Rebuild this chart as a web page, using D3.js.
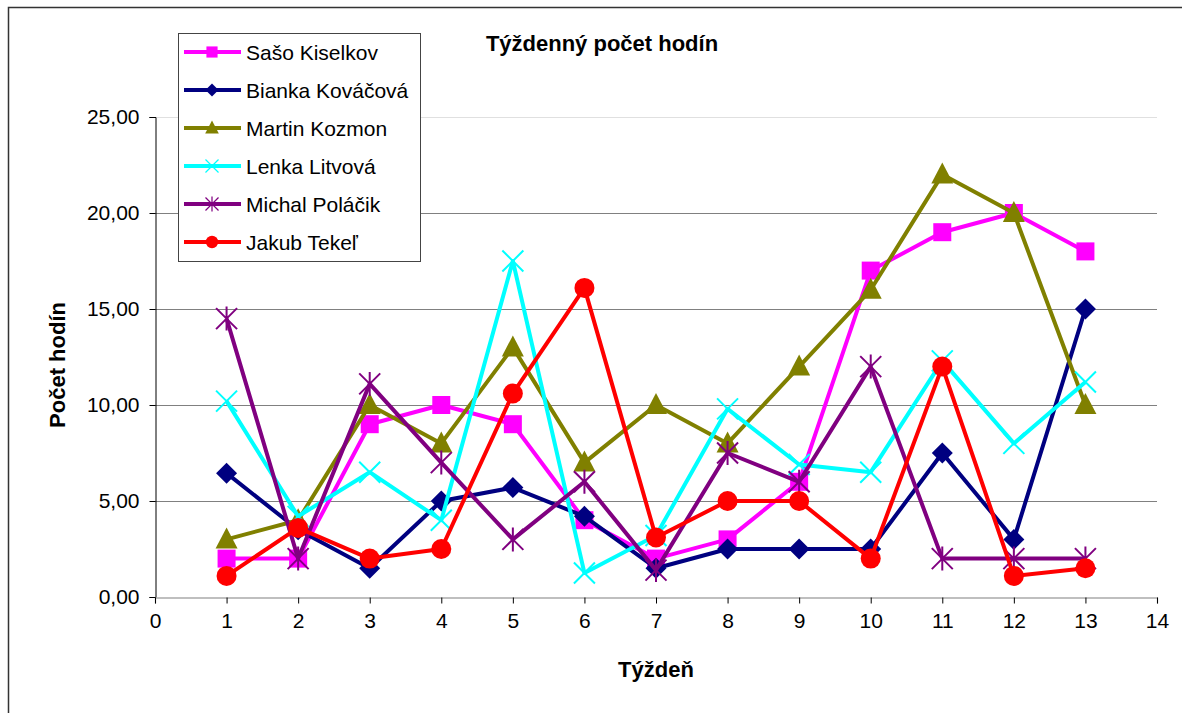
<!DOCTYPE html>
<html>
<head>
<meta charset="utf-8">
<script src="https://cdn.jsdelivr.net/npm/d3@7"></script>
<style>
  body { margin: 0; background: #fff; }
  svg { display: block; font-family: "Liberation Sans", Arial, sans-serif; }
</style>
</head>
<body>
<div id="chart"></div>
<script>
// Weekly hours per person, weeks 1..13
var weeks = [1, 2, 3, 4, 5, 6, 7, 8, 9, 10, 11, 12, 13];
var names = ["Sašo Kiselkov", "Bianka Kováčová", "Martin Kozmon", "Lenka Litvová", "Michal Poláčik", "Jakub Tekeľ"];
var colors = ["#ff00ff", "#000080", "#808000", "#00ffff", "#800080", "#ff0000"];
var markers = ["square", "diamond", "triangle", "x", "star", "circle"];

var saso    = [2, 2, 9, 10, 9, 4, 2, 3, 6, 17, 19, 20, 18];
var bianka  = [6.45, 3.5, 1.5, 5, 5.7, 4.2, 1.5, 2.5, 2.5, 2.5, 7.5, 3, 15];
var martin  = [3, 4, 10, 8, 13, 7, 10, 8, 12, 16, 22, 20, 10];
var lenka   = [10.2, 4.2, 6.5, 4, 17.5, 1.25, 3.2, 9.8, 6.9, 6.5, 12.3, 8, 11.2];
var michal  = [14.5, 2, 11.1, 7, 3, 6, 1.4, 7.5, 6, 12, 2, 2, 2];
var jakub   = [1.1, 3.6, 2, 2.5, 10.6, 16.1, 3.1, 5, 5, 2, 12, 1.1, 1.5];

var seriesValues = [saso, bianka, martin, lenka, michal, jakub];

var xTicks = d3.range(0, 15);
var yTicks = [0, 5, 10, 15, 20, 25];

var W = 1182, H = 713;
var plot = { left: 155, right: 1157, top: 117, bottom: 597 };

var svg = d3.select("#chart").append("svg")
  .attr("width", W).attr("height", H);

// outer chart border
svg.append("rect")
  .attr("x", 8.5).attr("y", 7.5)
  .attr("width", W + 20).attr("height", H + 20)
  .attr("fill", "none").attr("stroke", "#333").attr("stroke-width", 1.5);

var x = d3.scaleLinear().domain([0, 14]).range([plot.left, plot.right]);
var y = d3.scaleLinear().domain([0, 25]).range([plot.bottom, plot.top]);

// plot area top edge (light)
svg.append("line")
  .attr("x1", plot.left).attr("x2", plot.right)
  .attr("y1", plot.top + 0.5).attr("y2", plot.top + 0.5)
  .attr("stroke", "#e0e0e0");

// gridlines
svg.append("g").selectAll("line")
  .data(yTicks.filter(function(d) { return d > 0 && d < 25; }))
  .enter().append("line")
  .attr("x1", plot.left).attr("x2", plot.right)
  .attr("y1", function(d) { return Math.round(y(d)) + 0.5; })
  .attr("y2", function(d) { return Math.round(y(d)) + 0.5; })
  .attr("stroke", "#808080").attr("stroke-width", 1.2);

var fmt = function(d) { return d3.format(".2f")(d).replace(".", ","); };

// y axis
var yAxis = svg.append("g")
  .attr("transform", "translate(" + (plot.left + 0.5) + ",0)")
  .call(d3.axisLeft(y).tickValues(yTicks).tickFormat(fmt).tickSize(6).tickPadding(10));
yAxis.select(".domain").attr("stroke", "#000");
yAxis.selectAll(".tick line").attr("stroke", "#000");
yAxis.selectAll("text").attr("font-size", 21).attr("fill", "#000")
  .attr("font-family", "Liberation Sans, Arial, sans-serif");

// x axis
var xAxis = svg.append("g")
  .attr("transform", "translate(0," + (plot.bottom + 0.5) + ")")
  .call(d3.axisBottom(x).tickValues(xTicks).tickFormat(d3.format("d")).tickSize(6).tickPadding(10));
xAxis.select(".domain").attr("stroke", "#808080").attr("stroke-width", 1.2);
xAxis.selectAll(".tick line").attr("stroke", "#000");
xAxis.selectAll("text").attr("font-size", 21).attr("fill", "#000")
  .attr("font-family", "Liberation Sans, Arial, sans-serif");

// titles
svg.append("text")
  .attr("x", 602).attr("y", 51)
  .attr("text-anchor", "middle").attr("font-size", 22).attr("font-weight", "bold")
  .text("Týždenný počet hodín");

svg.append("text")
  .attr("x", 656).attr("y", 677)
  .attr("text-anchor", "middle").attr("font-size", 22).attr("font-weight", "bold")
  .text("Týždeň");

svg.append("text")
  .attr("transform", "translate(65,365) rotate(-90)")
  .attr("text-anchor", "middle").attr("font-size", 22).attr("font-weight", "bold")
  .text("Počet hodín");

// marker drawing
function drawMarker(g, type, color) {
  if (type === "square") {
    g.append("rect").attr("x", -9).attr("y", -9).attr("width", 18).attr("height", 18).attr("fill", color);
  } else if (type === "diamond") {
    g.append("path").attr("d", "M0,-10.5L10.5,0L0,10.5L-10.5,0Z").attr("fill", color);
  } else if (type === "triangle") {
    g.append("path").attr("d", "M0,-12L11,9L-11,9Z").attr("fill", color);
  } else if (type === "circle") {
    g.append("circle").attr("r", 10).attr("fill", color);
  } else if (type === "x") {
    g.append("path").attr("d", "M-10.5,-10.5L10.5,10.5M-10.5,10.5L10.5,-10.5")
      .attr("stroke", color).attr("stroke-width", 2).attr("fill", "none");
  } else if (type === "star") {
    g.append("path").attr("d", "M-10.5,-10.5L10.5,10.5M-10.5,10.5L10.5,-10.5M0,-12L0,12")
      .attr("stroke", color).attr("stroke-width", 2).attr("fill", "none");
  }
}

var line = d3.line()
  .x(function(d, i) { return x(weeks[i]); })
  .y(function(d) { return y(d); });

seriesValues.forEach(function(vals, s) {
  var g = svg.append("g");
  g.append("path")
    .attr("d", line(vals))
    .attr("fill", "none")
    .attr("stroke", colors[s])
    .attr("stroke-width", 4)
    .attr("stroke-linejoin", "round");
  vals.forEach(function(v, i) {
    var m = g.append("g").attr("transform", "translate(" + x(weeks[i]) + "," + y(v) + ")");
    drawMarker(m, markers[s], colors[s]);
  });
});

// legend
var legend = svg.append("g").attr("transform", "translate(178,33)");
legend.append("rect")
  .attr("x", 0.5).attr("y", 0.5).attr("width", 242).attr("height", 228)
  .attr("fill", "#fff").attr("stroke", "#444").attr("stroke-width", 1);

names.forEach(function(name, s) {
  var cy = 19 + s * 38;
  var item = legend.append("g").attr("transform", "translate(0," + cy + ")");
  item.append("line").attr("x1", 6).attr("x2", 63).attr("y1", 0).attr("y2", 0)
    .attr("stroke", colors[s]).attr("stroke-width", 4);
  var m = item.append("g").attr("transform", "translate(34,0) scale(0.62)");
  drawMarker(m, markers[s], colors[s]);
  item.append("text").attr("x", 68).attr("y", 8)
    .attr("font-size", 21).attr("fill", "#000")
    .text(name);
});
</script>
</body>
</html>
